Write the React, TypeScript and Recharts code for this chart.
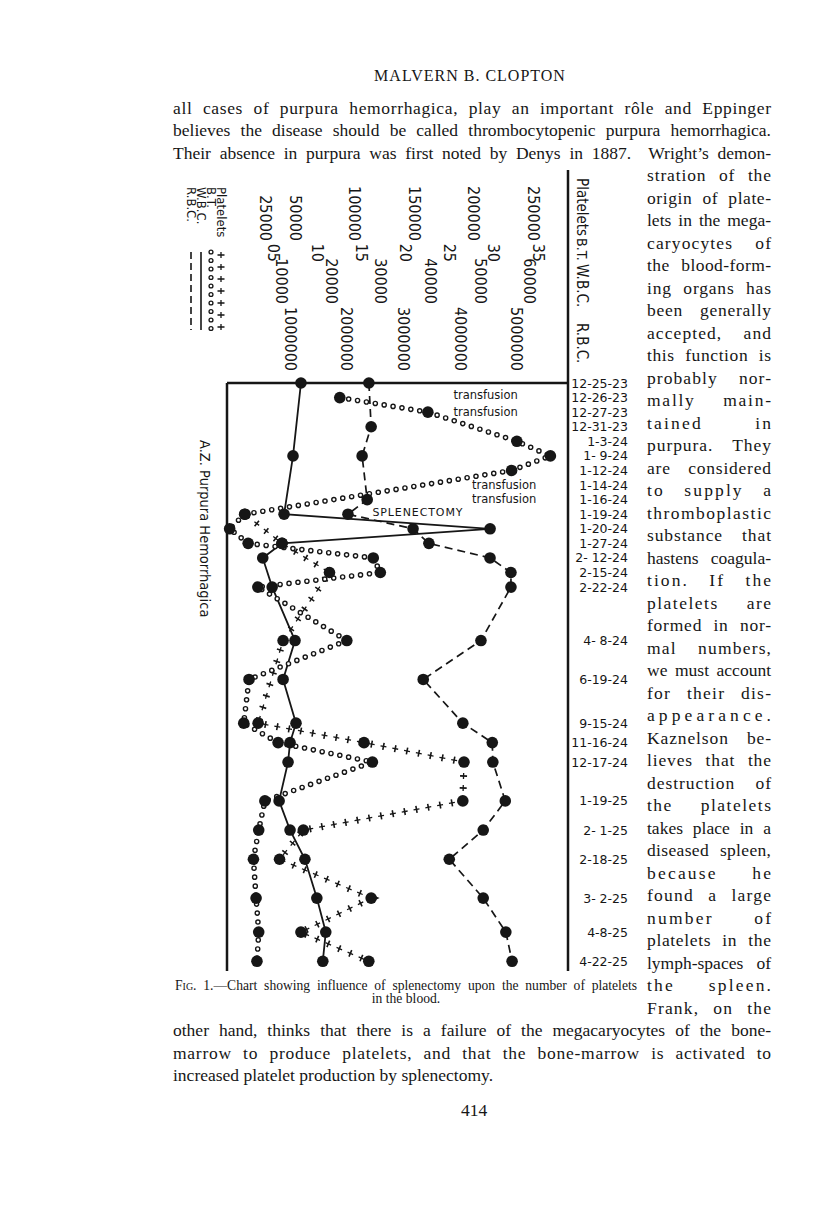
import React, { useLayoutEffect, useRef, useState } from "react";
import { ComposedChart, Line, XAxis, YAxis, Legend, ReferenceDot, ReferenceLine } from "recharts";

const INK = "#161616";
const SERIF = '"Liberation Serif", "Times New Roman", serif';
const SANS = '"DejaVu Sans Condensed", "DejaVu Sans", sans-serif';

// ---------- chart data ----------
const dates = ["12-25-23", "12-26-23", "12-27-23", "12-31-23", "1-3-24", "1- 9-24", "1-12-24", "1-14-24", "1-16-24", "1-19-24", "1-20-24", "1-27-24", "2- 12-24", "2-15-24", "2-22-24", "4- 8-24", "6-19-24", "9-15-24", "11-16-24", "12-17-24", "1-19-25", "2- 1-25", "2-18-25", "3- 2-25", "4-8-25", "4-22-25"];
// ruled row of the chart paper on which each date is lettered
const dateRows = [0, 3, 6, 9, 12, 15, 18, 21, 24, 27, 30, 33, 36, 39, 42, 53, 61, 70, 74, 78, 86, 92, 98, 106, 113, 119];
const platelets = [null, null, null, null, null, null, null, null, null, 8000, null, 39000, null, 79000, null, 40000, null, 19000, 108000, 192000, 191000, 57000, 37000, 114000, 55000, 112000];
const bleedingTime = [null, 12.5, 22.5, null, 32.6, 36.4, 32.0, null, null, 1.7, 0, 2.1, 16.3, 17.1, 3.2, 13.3, 2.2, 1.6, 5.5, 16.2, 4.0, 3.3, 2.7, 3.0, 3.3, 3.1];
const whiteCells = [13900, null, null, null, null, 12300, null, null, null, 10500, 52000, 10100, 6200, null, 8100, 12700, 10300, 12900, 11700, 11300, 9500, 11700, 14700, 17100, 18900, 18300];
const redCells = [2390000, null, null, 2430000, null, 2270000, null, null, 2360000, 2020000, 3170000, 3450000, 4530000, 4900000, 4900000, 4370000, 3350000, 4050000, 4570000, 4580000, 4800000, 4410000, 3810000, 4410000, 4810000, 4920000];

const plateletTicks = [25000, 50000, 100000, 150000, 200000, 250000];
const btTicks = [5, 10, 15, 20, 25, 30, 35];
const wbcTicks = [10000, 20000, 30000, 40000, 50000, 60000];
const rbcTicks = [1000000, 2000000, 3000000, 4000000, 5000000];

const legendNames = ["Platelets", "B.T.", "W.B.C.", "R.B.C."];
const chartTitle = "A.Z. Purpura Hemorrhagica";

const noteTexts = ["transfusion", "transfusion", "transfusion", "transfusion", "SPLENECTOMY"];
const noteBt = [25.4, 25.4, 27.5, 27.5, 16.2];
const noteRows = [2.5, 6, 21, 23.9, 26.6];

const table = dates.map((d, i) => ({
  date: d,
  row: dateRows[i],
  platelets: platelets[i],
  bt: bleedingTime[i],
  wbc: whiteCells[i],
  rbc: redCells[i],
}));

// ---------- page text ----------
const topLines = [
  "all cases of purpura hemorrhagica, play an important rôle and Eppinger",
  "believes the disease should be called thrombocytopenic purpura hemorrhagica.",
  "Their absence in purpura was first noted by Denys in 1887.  Wright’s demon-",
];
const sideLines = ["stration of the", "origin of plate-", "lets in the mega-", "caryocytes of", "the blood-form-", "ing organs has", "been generally", "accepted, and", "this function is", "probably nor-", "mally main-", "tained in", "purpura. They", "are considered", "to supply a", "thromboplastic", "substance that", "hastens coagula-", "tion. If the", "platelets are", "formed in nor-", "mal numbers,", "we must account", "for their dis-", "appearance.", "Kaznelson be-", "lieves that the", "destruction of", "the platelets", "takes place in a", "diseased spleen,", "because he", "found a large", "number of", "platelets in the", "lymph-spaces of", "the spleen.", "Frank, on the"];
const bottomLines = [
  "other hand, thinks that there is a failure of the megacaryocytes of the bone-",
  "marrow to produce platelets, and that the bone-marrow is activated to",
  "increased platelet production by splenectomy.",
];

type JProps = { text: string; left: number; top: number; width: number; size: number; justify?: boolean; prefix?: string; align?: "left" | "center" };
function JLine({ text, left, top, width, size, justify = true, prefix = "", align = "left" }: JProps) {
  const ref = useRef<HTMLSpanElement>(null);
  const [sp, setSp] = useState({ word: 0, letter: 0 });
  useLayoutEffect(() => {
    if (!justify || !ref.current) return;
    const w = ref.current.getBoundingClientRect().width;
    const full = prefix + text;
    const spaces = (full.match(/ /g) || []).length;
    const extra = width - w;
    const chars = full.replace(/ /g, "").length;
    if (spaces > 0) {
      // share the slack between letters and words, as the compositor did
      const perWord = extra / spaces;
      if (perWord > 9 && chars > 1) {
        const letter = Math.min(2.2, (extra * 0.45) / (full.length - 1));
        const rest = extra - letter * (full.length - 1);
        setSp({ word: rest / spaces, letter });
      } else setSp({ word: perWord, letter: 0 });
    } else setSp({ word: 0, letter: extra / Math.max(1, full.length - 1) });
  }, [text, width, justify, prefix]);
  return (
    <div style={{ position: "absolute", left, top, width, textAlign: align, whiteSpace: "pre", fontFamily: SERIF, fontSize: size, lineHeight: `${size * 1.3}px`, color: INK }}>
      <span ref={ref} style={{ wordSpacing: sp.word, letterSpacing: sp.letter }}>
        {prefix ? <span style={{ fontVariant: "small-caps" }}>{prefix}</span> : null}
        {text}
      </span>
    </div>
  );
}

// ---------- chart helpers ----------
const renderDot = (p: any) => {
  const k = `dot-${p.dataKey}-${p.index}`;
  if (p.cx == null || p.cy == null || p.value == null || Number.isNaN(p.cx)) return <g key={k} />;
  return <circle key={k} cx={p.cx} cy={p.cy} r={5.8} fill={INK} />;
};

const topTick = (pad: number, size: number, fmt: (v: number) => string) => (props: any) => {
  const { x, y, payload } = props;
  const yy = y - pad;
  return (
    <text x={x} y={yy} transform={`rotate(90 ${x} ${yy})`} textAnchor="end" dominantBaseline="central" fontFamily={SANS} fontSize={size} fill={INK}>
      {fmt(payload.value)}
    </text>
  );
};

const titleLabel = (title: string, start: number, size = 15) => (p: any) => {
  const vb = p.viewBox;
  const rx = vb.x + vb.width;
  const tx = rx + 14;
  const ty = vb.y + start;
  return (
    <g>
      <line x1={rx} x2={rx} y1={vb.y} y2={vb.y + vb.height} stroke={INK} strokeWidth={2.5} />
      <text x={tx} y={ty} transform={`rotate(90 ${tx} ${ty})`} textAnchor="start" dominantBaseline="central" fontFamily={SANS} fontSize={size} fill={INK}>
        {title}
      </text>
    </g>
  );
};

const dateTick = (props: any) => {
  const { x, y, payload } = props;
  const i = dateRows.indexOf(payload.value);
  return (
    <text x={x + 60} y={y} textAnchor="end" dominantBaseline="central" fontFamily='"DejaVu Sans", sans-serif' fontSize={12.5} fill={INK}>
      {i >= 0 ? dates[i] : ""}
    </text>
  );
};

const noteLabel = (text: string) => (p: any) => {
  const vb = p.viewBox;
  const caps = text === text.toUpperCase();
  return (
    <text x={vb.x} y={vb.y} dominantBaseline="central" fontFamily='"DejaVu Sans", sans-serif' fontSize={caps ? 11 : 11.5} letterSpacing={caps ? 0.9 : 0} fill={INK}>
      {text}
    </text>
  );
};

const LegendBox = () => (
  <svg width={48} height={170} style={{ overflow: "visible" }}>
    {legendNames.map((name, i) => {
      const x = 36 - i * 10;
      const y0 = 77;
      const y1 = 155;
      return (
        <g key={name}>
          <text x={x} y={12} transform={`rotate(90 ${x} 12)`} dominantBaseline="central" fontFamily={SANS} fontSize={13} fill={INK}>
            {name}
          </text>
          {i === 0 && (
            <g>
              <line x1={x} x2={x} y1={y0} y2={y1} stroke={INK} strokeWidth={7} strokeDasharray="1.6 10.4" strokeDashoffset={-2.2} />
              <line x1={x} x2={x} y1={y0} y2={y1} stroke={INK} strokeWidth={1.3} strokeDasharray="6 6" />
            </g>
          )}
          {i === 1 && (
            <g>
              <line x1={x} x2={x} y1={y0} y2={y1} stroke={INK} strokeWidth={5.2} strokeDasharray="0 8.5" strokeLinecap="round" />
              <line x1={x} x2={x} y1={y0} y2={y1} stroke="#fff" strokeWidth={2.6} strokeDasharray="0 8.5" strokeLinecap="round" />
            </g>
          )}
          {i === 2 && <line x1={x} x2={x} y1={y0} y2={y1} stroke={INK} strokeWidth={1.6} />}
          {i === 3 && <line x1={x} x2={x} y1={y0} y2={y1} stroke={INK} strokeWidth={1.6} strokeDasharray="7 4" />}
        </g>
      );
    })}
  </svg>
);

function Chart() {
  // axis ids are ordered so the stacked top scales read (from the grid upward) R.B.C., W.B.C., B.T., Platelets
  return (
    <ComposedChart width={500} height={830} data={table} layout="vertical" margin={{ top: 10, right: 17, bottom: 19, left: 77 }}>
      <XAxis xAxisId="a_rbc" type="number" orientation="top" domain={[-117000, 5908000]} ticks={rbcTicks} interval={0} height={76} tickLine={false} tickSize={0} tickMargin={0} axisLine={{ stroke: INK, strokeWidth: 2.5 }} tick={topTick(12, 16, (v) => String(v))} label={titleLabel("R.B.C.", 16)} />
      <XAxis xAxisId="b_wbc" type="number" orientation="top" domain={[-1000, 67700]} ticks={wbcTicks} interval={0} height={42} tickLine={false} tickSize={0} tickMargin={0} axisLine={false} tick={topTick(3, 16, (v) => String(v))} label={titleLabel("W.B.C.", -1)} />
      <XAxis xAxisId="c_bt" type="number" orientation="top" domain={[-0.3, 38.4]} ticks={btTicks} interval={0} height={22} tickLine={false} tickSize={0} tickMargin={0} axisLine={false} tick={topTick(3, 16, (v) => (v < 10 ? "0" + v : String(v)))} label={titleLabel("B.T.", -5, 14)} />
      <XAxis xAxisId="d_plt" type="number" orientation="top" domain={[-7140, 279400]} ticks={plateletTicks} interval={0} height={73} tickLine={false} tickSize={0} tickMargin={0} axisLine={false} tick={topTick(2, 16, (v) => String(v))} label={titleLabel("Platelets", 8)} />
      <YAxis yAxisId="date" dataKey="row" type="number" orientation="right" domain={[0, 121]} ticks={dateRows} interval={0} width={65} tickLine={false} tickSize={0} tickMargin={0} axisLine={{ stroke: INK, strokeWidth: 2.5 }} tick={dateTick} />
      <Legend layout="vertical" align="center" verticalAlign="middle" content={() => <LegendBox />} wrapperStyle={{ left: 35, top: 15, width: 48, height: 170 }} />

      <ReferenceLine xAxisId="c_bt" yAxisId="date" x={-0.3} stroke={INK} strokeWidth={2.5} ifOverflow="visible" />

      <Line xAxisId="a_rbc" yAxisId="date" dataKey="rbc" name="R.B.C." stroke={INK} strokeWidth={1.7} strokeDasharray="8 5" connectNulls dot={renderDot} activeDot={false} isAnimationActive={false} />
      <Line xAxisId="b_wbc" yAxisId="date" dataKey="wbc" name="W.B.C." stroke={INK} strokeWidth={1.8} connectNulls dot={renderDot} activeDot={false} isAnimationActive={false} />
      <Line xAxisId="d_plt" yAxisId="date" dataKey="platelets" name="Platelets bars" stroke={INK} strokeWidth={7} strokeDasharray="1.6 10.4" strokeDashoffset={-2.2} connectNulls dot={false} activeDot={false} legendType="none" isAnimationActive={false} />
      <Line xAxisId="d_plt" yAxisId="date" dataKey="platelets" name="Platelets" stroke={INK} strokeWidth={1.3} strokeDasharray="6 6" connectNulls dot={renderDot} activeDot={false} isAnimationActive={false} />
      <Line xAxisId="c_bt" yAxisId="date" dataKey="bt" name="B.T. ring" stroke={INK} strokeWidth={5.6} strokeDasharray="0 9" strokeLinecap="round" connectNulls dot={false} activeDot={false} legendType="none" isAnimationActive={false} />
      <Line xAxisId="c_bt" yAxisId="date" dataKey="bt" name="B.T." stroke="#fff" strokeWidth={2.8} strokeDasharray="0 9" strokeLinecap="round" connectNulls dot={renderDot} activeDot={false} isAnimationActive={false} />

      {noteTexts.map((t, i) => (
        <ReferenceDot key={`note-${i}`} xAxisId="c_bt" yAxisId="date" x={noteBt[i]} y={noteRows[i]} r={0} fill="none" stroke="none" ifOverflow="visible" label={noteLabel(t)} />
      ))}
    </ComposedChart>
  );
}

export default function App() {
  const lineTop = (n: number) => 96.7 + 22.5 * n;
  return (
    <div style={{ position: "absolute", left: 0, top: 0, width: 816, height: 1212, background: "#fff", overflow: "hidden" }}>
      <div style={{ position: "absolute", left: 150, top: 160 }}>
        <Chart />
      </div>

      <div style={{ position: "absolute", left: 196, top: 440, writingMode: "vertical-rl", fontFamily: SANS, fontSize: 14.5, lineHeight: "18px", color: INK, whiteSpace: "nowrap" }}>
        {chartTitle}
      </div>

      <div style={{ position: "absolute", left: 270, top: 65.5, width: 400, textAlign: "center", fontFamily: SERIF, fontSize: 16, lineHeight: "20.8px", letterSpacing: 1, color: INK }}>
        MALVERN B. CLOPTON
      </div>

      {topLines.map((t, i) => (
        <JLine key={`t${i}`} text={t} left={173} top={lineTop(i)} width={598} size={17.5} />
      ))}
      {sideLines.map((t, i) => (
        <JLine key={`s${i}`} text={t} left={647} top={lineTop(i + 3)} width={124} size={17.5} />
      ))}
      {bottomLines.map((t, i) => (
        <JLine key={`b${i}`} text={t} left={173} top={lineTop(i + 41)} width={598} size={17.5} justify={i < 2} />
      ))}

      <JLine text="1.—Chart showing influence of splenectomy upon the number of platelets" prefix="Fig. " left={175} top={977} width={462} size={13.6} />
      <JLine text="in the blood." left={175} top={990} width={462} size={13.6} justify={false} align="center" />

      <div style={{ position: "absolute", left: 374, top: 1098.5, width: 200, textAlign: "center", fontFamily: SERIF, fontSize: 17.5, lineHeight: "22.75px", color: INK }}>
        414
      </div>
    </div>
  );
}
